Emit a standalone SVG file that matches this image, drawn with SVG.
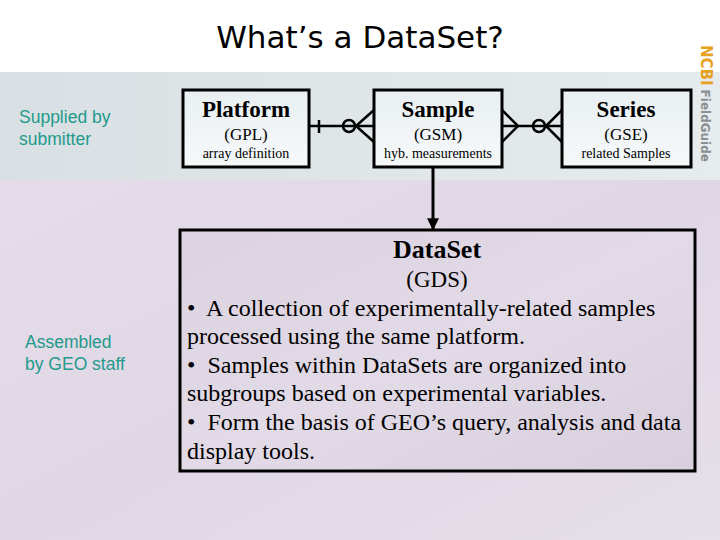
<svg xmlns="http://www.w3.org/2000/svg" width="720" height="540" viewBox="0 0 720 540">
<defs>
<style>
.box{stroke:#000;stroke-width:3}
.conn{stroke:#000;stroke-width:2.5;fill:none}
.t{font-family:"Liberation Serif","Times New Roman",serif;fill:#000;text-anchor:middle}
.b{font-family:"Liberation Serif","Times New Roman",serif;fill:#000;font-size:24px}
.side{font-family:"Liberation Sans",Arial,sans-serif;font-size:17.5px;fill:#1f9a8c}
</style>
<linearGradient id="band" x1="0" y1="0" x2="1" y2="0">
<stop offset="0" stop-color="#d9e0e3"/><stop offset="1" stop-color="#e6ebed"/>
</linearGradient>
<linearGradient id="low" x1="0" y1="0" x2="1" y2="1">
<stop offset="0" stop-color="#e4dde9"/><stop offset="0.5" stop-color="#e0d7e5"/><stop offset="1" stop-color="#e6e0ea"/>
</linearGradient>
<linearGradient id="topbox" x1="0" y1="0" x2="0" y2="1">
<stop offset="0" stop-color="#e9eff2"/><stop offset="1" stop-color="#f6f9fa"/>
</linearGradient>
<linearGradient id="dsbox" x1="0" y1="0" x2="1" y2="1">
<stop offset="0" stop-color="#dcd2e1"/><stop offset="0.5" stop-color="#e2dae6"/><stop offset="1" stop-color="#d9cfde"/>
</linearGradient>
<marker id="arr" viewBox="0 0 10 10" refX="9" refY="5" markerWidth="4" markerHeight="4" orient="auto">
<path d="M0,0 L10,5 L0,10 z" fill="#000"/>
</marker>
</defs>
<rect x="0" y="0" width="720" height="540" fill="#ffffff"/>
<rect x="0" y="72" width="720" height="108" fill="url(#band)"/>
<rect x="0" y="180" width="720" height="360" fill="url(#low)"/>
<text x="360" y="48" text-anchor="middle" font-family="DejaVu Sans,Verdana,sans-serif" font-size="31" fill="#000">What’s a DataSet?</text>
<text transform="translate(701,45) rotate(90)" font-family="DejaVu Sans,Verdana,sans-serif" font-weight="bold"><tspan fill="#e8a020" font-size="15">NCBI</tspan><tspan fill="#8a8f92" font-size="12" dx="4">FieldGuide</tspan></text>
<text class="side" x="19" y="123">Supplied by</text>
<text class="side" x="19" y="145">submitter</text>
<text class="side" x="25" y="348">Assembled</text>
<text class="side" x="25" y="370">by GEO staff</text>
<g id="connectors">
<line class="conn" x1="309" y1="126" x2="374" y2="126"/>
<line class="conn" x1="319" y1="120" x2="319" y2="133"/>
<circle class="conn" cx="349" cy="126" r="6"/>
<polyline class="conn" points="374,110 356,126 374,142"/>
<line class="conn" x1="502" y1="126" x2="562" y2="126"/>
<polyline class="conn" points="502,110 518,126 502,142"/>
<circle class="conn" cx="539" cy="126" r="6"/>
<polyline class="conn" points="562,110 546,126 562,142"/>
<line x1="433" y1="167" x2="433" y2="229" stroke="#000" stroke-width="3" marker-end="url(#arr)"/>
</g>
<g id="platform">
<rect class="box" x="183" y="90" width="126" height="77" fill="url(#topbox)"/>
<text class="t" x="246" y="117" font-size="23" font-weight="bold">Platform</text>
<text class="t" x="246" y="140" font-size="17">(GPL)</text>
<text class="t" x="246" y="158" font-size="14">array definition</text>
</g>
<g id="sample">
<rect class="box" x="374" y="90" width="128" height="77" fill="url(#topbox)"/>
<text class="t" x="438" y="117" font-size="23" font-weight="bold">Sample</text>
<text class="t" x="438" y="140" font-size="17">(GSM)</text>
<text class="t" x="438" y="158" font-size="14">hyb. measurements</text>
</g>
<g id="series">
<rect class="box" x="562" y="90" width="129" height="77" fill="url(#topbox)"/>
<text class="t" x="626" y="117" font-size="23" font-weight="bold">Series</text>
<text class="t" x="626" y="140" font-size="17">(GSE)</text>
<text class="t" x="626" y="158" font-size="14">related Samples</text>
</g>
<g id="dataset">
<rect class="box" x="180" y="230" width="515" height="241" fill="url(#dsbox)"/>
<text class="t" x="437" y="258" font-size="26" font-weight="bold">DataSet</text>
<text class="t" x="437" y="287" font-size="23">(GDS)</text>
<text class="b" x="187" y="316" xml:space="preserve">•  A collection of experimentally-related samples</text>
<text class="b" x="187" y="344">processed using the same platform.</text>
<text class="b" x="187" y="373" xml:space="preserve">•  Samples within DataSets are organized into</text>
<text class="b" x="187" y="401">subgroups based on experimental variables.</text>
<text class="b" x="187" y="430" xml:space="preserve">•  Form the basis of GEO’s query, analysis and data</text>
<text class="b" x="187" y="459">display tools.</text>
</g>
</svg>
